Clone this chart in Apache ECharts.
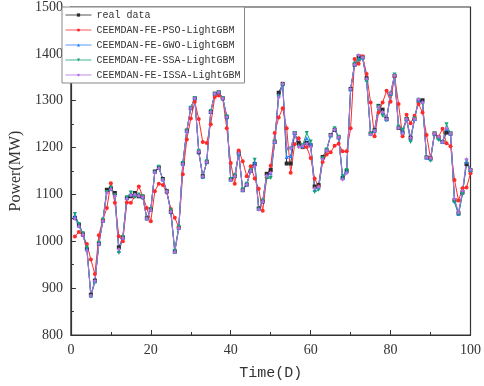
<!DOCTYPE html>
<html>
<head>
<meta charset="utf-8">
<script src="https://cdn.jsdelivr.net/npm/echarts@6/dist/echarts.min.js"></script>
<style>
    html, body { margin: 0; padding: 0; background: #fff; }
    #main { width: 484px; height: 386px; }
</style>
</head>
<body>
<div id="main"></div>
<script>
// day index 1..100
var days = [];
for (var d = 1; d <= 100; d++) { days.push(d); }

var realData = [1050,1035,1015,983,886,916,995,1044,1110,1113,
    1103,987,1008,1092,1096,1103,1096,1094,1049,1068,
    1149,1157,1133,1107,1063,978,1029,1166,1236,1284,
    1305,1190,1139,1169,1276,1315,1318,1305,1265,1132,
    1139,1188,1109,1121,1150,1165,1070,1085,1144,1152,
    1212,1317,1336,1166,1166,1231,1210,1201,1210,1205,
    1117,1120,1180,1194,1227,1238,1222,1135,1150,1325,
    1377,1395,1393,1348,1230,1237,1289,1281,1261,1315,
    1353,1242,1232,1261,1221,1261,1300,1301,1179,1177,
    1230,1222,1212,1232,1230,1088,1060,1105,1165,1152];

var psoData = [1010,1020,1013,994,961,930,1013,1046,1071,1124,
    1082,1011,1000,1083,1082,1096,1117,1096,1071,1043,
    1107,1123,1120,1104,1069,1050,1030,1143,1217,1262,
    1298,1261,1212,1210,1250,1308,1311,1305,1241,1167,
    1123,1194,1171,1139,1160,1134,1112,1065,1136,1161,
    1231,1264,1284,1241,1146,1207,1220,1202,1201,1178,
    1134,1117,1169,1185,1190,1204,1208,1192,1192,1241,
    1389,1379,1395,1357,1296,1224,1275,1296,1321,1298,
    1353,1293,1224,1270,1252,1268,1293,1275,1227,1177,
    1230,1223,1240,1209,1203,1131,1087,1113,1115,1145];

var gwoData = [1054,1033,1014,985,884,914,996,1045,1106,1112,
    1100,980,1008,1093,1100,1098,1098,1095,1049,1068,
    1148,1158,1132,1106,1064,979,1030,1165,1235,1285,
    1306,1192,1137,1170,1277,1316,1319,1306,1266,1132,
    1140,1186,1110,1122,1150,1168,1069,1086,1140,1145,
    1212,1312,1335,1180,1182,1231,1205,1203,1220,1208,
    1110,1115,1178,1195,1226,1240,1222,1136,1150,1324,
    1378,1390,1392,1345,1230,1236,1288,1275,1260,1315,
    1355,1244,1235,1261,1217,1261,1301,1297,1179,1175,
    1230,1220,1212,1240,1230,1086,1058,1103,1170,1152];

var ssaData = [1058,1037,1017,987,882,913,997,1046,1105,1115,
    1098,975,1009,1094,1104,1094,1100,1096,1047,1069,
    1147,1159,1131,1105,1066,980,1031,1167,1236,1285,
    1306,1193,1136,1171,1278,1314,1317,1306,1267,1133,
    1141,1184,1111,1123,1151,1174,1068,1087,1134,1135,
    1213,1308,1333,1196,1198,1231,1201,1205,1231,1213,
    1105,1110,1177,1196,1225,1241,1223,1139,1152,1323,
    1379,1386,1391,1341,1229,1235,1287,1268,1259,1314,
    1356,1245,1238,1260,1212,1262,1302,1293,1178,1172,
    1230,1216,1211,1250,1230,1083,1057,1101,1172,1150];

var issaData = [1048,1032,1014,980,884,915,994,1043,1103,1111,
    1096,983,1007,1091,1098,1100,1097,1094,1048,1067,
    1147,1156,1131,1106,1063,977,1028,1165,1235,1284,
    1305,1191,1138,1169,1276,1315,1318,1305,1265,1131,
    1139,1188,1109,1121,1150,1160,1068,1085,1140,1146,
    1212,1307,1336,1199,1198,1231,1201,1204,1208,1201,
    1113,1116,1175,1194,1227,1238,1222,1132,1145,1325,
    1377,1397,1392,1347,1228,1236,1286,1276,1261,1316,
    1354,1242,1230,1261,1221,1261,1303,1296,1179,1177,
    1230,1223,1212,1241,1230,1090,1062,1108,1175,1153];

var seriesNames = ['real data', 'CEEMDAN-FE-PSO-LightGBM', 'CEEMDAN-FE-GWO-LightGBM',
    'CEEMDAN-FE-SSA-LightGBM', 'CEEMDAN-FE-ISSA-LightGBM'];
var seriesData = [realData, psoData, gwoData, ssaData, issaData];
var colors = ['#2b2b2b', '#ff2a2a', '#2a7fff', '#12a37a', '#b56ee6'];
var symbols = ['rect', 'circle', 'triangle', 'path://M0,0L10,0L5,9Z', 'diamond'];

var myChart = echarts.init(document.getElementById('main'), null, {renderer: 'canvas'});

var series = [];
for (var s = 0; s < seriesNames.length; s++) {
    var pts = [];
    for (var i = 0; i < days.length; i++) {
        pts.push([days[i], seriesData[s][i]]);
    }
    series.push({
        name: seriesNames[s],
        type: 'line',
        data: pts,
        symbol: symbols[s],
        symbolSize: 4,
        showAllSymbol: true,
        animation: false,
        lineStyle: {width: 1, color: colors[s]},
        itemStyle: {color: colors[s]}
    });
}

var tickFont = {
    fontFamily: 'Liberation Serif', fontSize: 14, color: '#333',
    formatter: function (v) { return String(v); }
};

myChart.setOption({
    animation: false,
    color: colors,
    grid: {
        left: 61, right: 12, top: 6, bottom: 49,
        show: true, borderColor: '#333', borderWidth: 1.2, backgroundColor: '#fff'
    },
    legend: {
        orient: 'vertical',
        left: 62, top: 7,
        itemWidth: 26, itemHeight: 4,
        itemGap: 5,
        padding: [3, 4, 3, 3],
        borderColor: '#888', borderWidth: 1,
        backgroundColor: '#fff',
        lineStyle: {width: 1, opacity: 0.8},
        textStyle: {fontFamily: 'Liberation Mono', fontSize: 10, color: '#333'},
        data: seriesNames
    },
    xAxis: {
        type: 'value',
        min: 0, max: 100, interval: 20,
        name: 'Time(D)',
        nameLocation: 'middle',
        nameGap: 31,
        nameTextStyle: {fontFamily: 'Liberation Mono', fontSize: 15, color: '#333'},
        axisLine: {lineStyle: {color: '#333', width: 1.2}},
        axisTick: {inside: true, length: 5, lineStyle: {color: '#333'}},
        minorTick: {show: true, splitNumber: 2, length: 3, lineStyle: {color: '#333'}},
        splitLine: {show: false},
        axisLabel: tickFont
    },
    yAxis: {
        type: 'value',
        min: 800, max: 1500, interval: 100,
        name: 'Power(MW)',
        nameLocation: 'middle',
        nameGap: 44,
        nameRotate: 90,
        nameTextStyle: {fontFamily: 'Liberation Serif', fontSize: 16, color: '#333'},
        axisLine: {show: true, lineStyle: {color: '#333', width: 1.2}},
        axisTick: {inside: true, length: 5, lineStyle: {color: '#333'}},
        minorTick: {show: true, splitNumber: 2, length: 3, lineStyle: {color: '#333'}},
        splitLine: {show: false},
        axisLabel: tickFont
    },
    series: series
});
</script>
</body>
</html>
